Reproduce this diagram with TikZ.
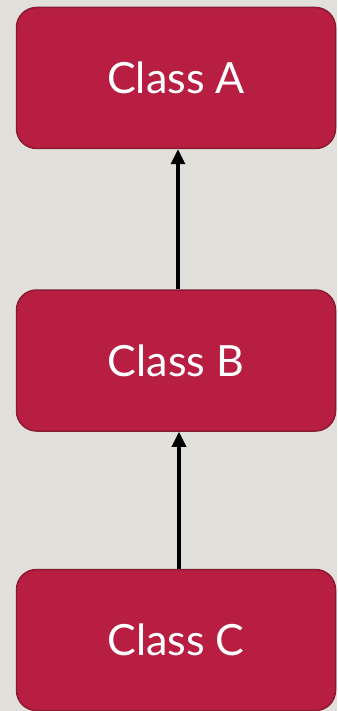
\documentclass[tikz,border=0pt]{standalone}
\usepackage{fontspec}
\setmainfont{Lato}
\usetikzlibrary{arrows.meta}
\definecolor{bgc}{HTML}{E2E0DB}
\definecolor{boxfill}{HTML}{B81E42}
\definecolor{boxline}{HTML}{8C1A33}
\tikzset{
  classbox/.style={draw=boxline, line width=1.5pt, fill=boxfill, rounded corners=20pt,
    minimum width=319pt, minimum height=141pt, inner sep=0pt, text=white,
    font=\fontsize{43}{50}\selectfont},
  inherit/.style={line width=3.3pt, -{Triangle[length=15pt,width=14pt]}}
}
\begin{document}
\begin{tikzpicture}[x=1pt,y=1pt]
\fill[bgc] (0,0) rectangle (337,-711);
\useasboundingbox (0,0) rectangle (337,-711);
\node[classbox] (A) at (176,-78) {Class A};
\node[classbox] (B) at (176,-360.5) {Class B};
\node[classbox] (C) at (176,-640) {Class C};
\draw[inherit] ([xshift=2pt]B.north) -- ([xshift=2pt]A.south);
\draw[inherit] ([xshift=3pt]C.north) -- ([xshift=3pt]B.south);
\end{tikzpicture}
\end{document}
